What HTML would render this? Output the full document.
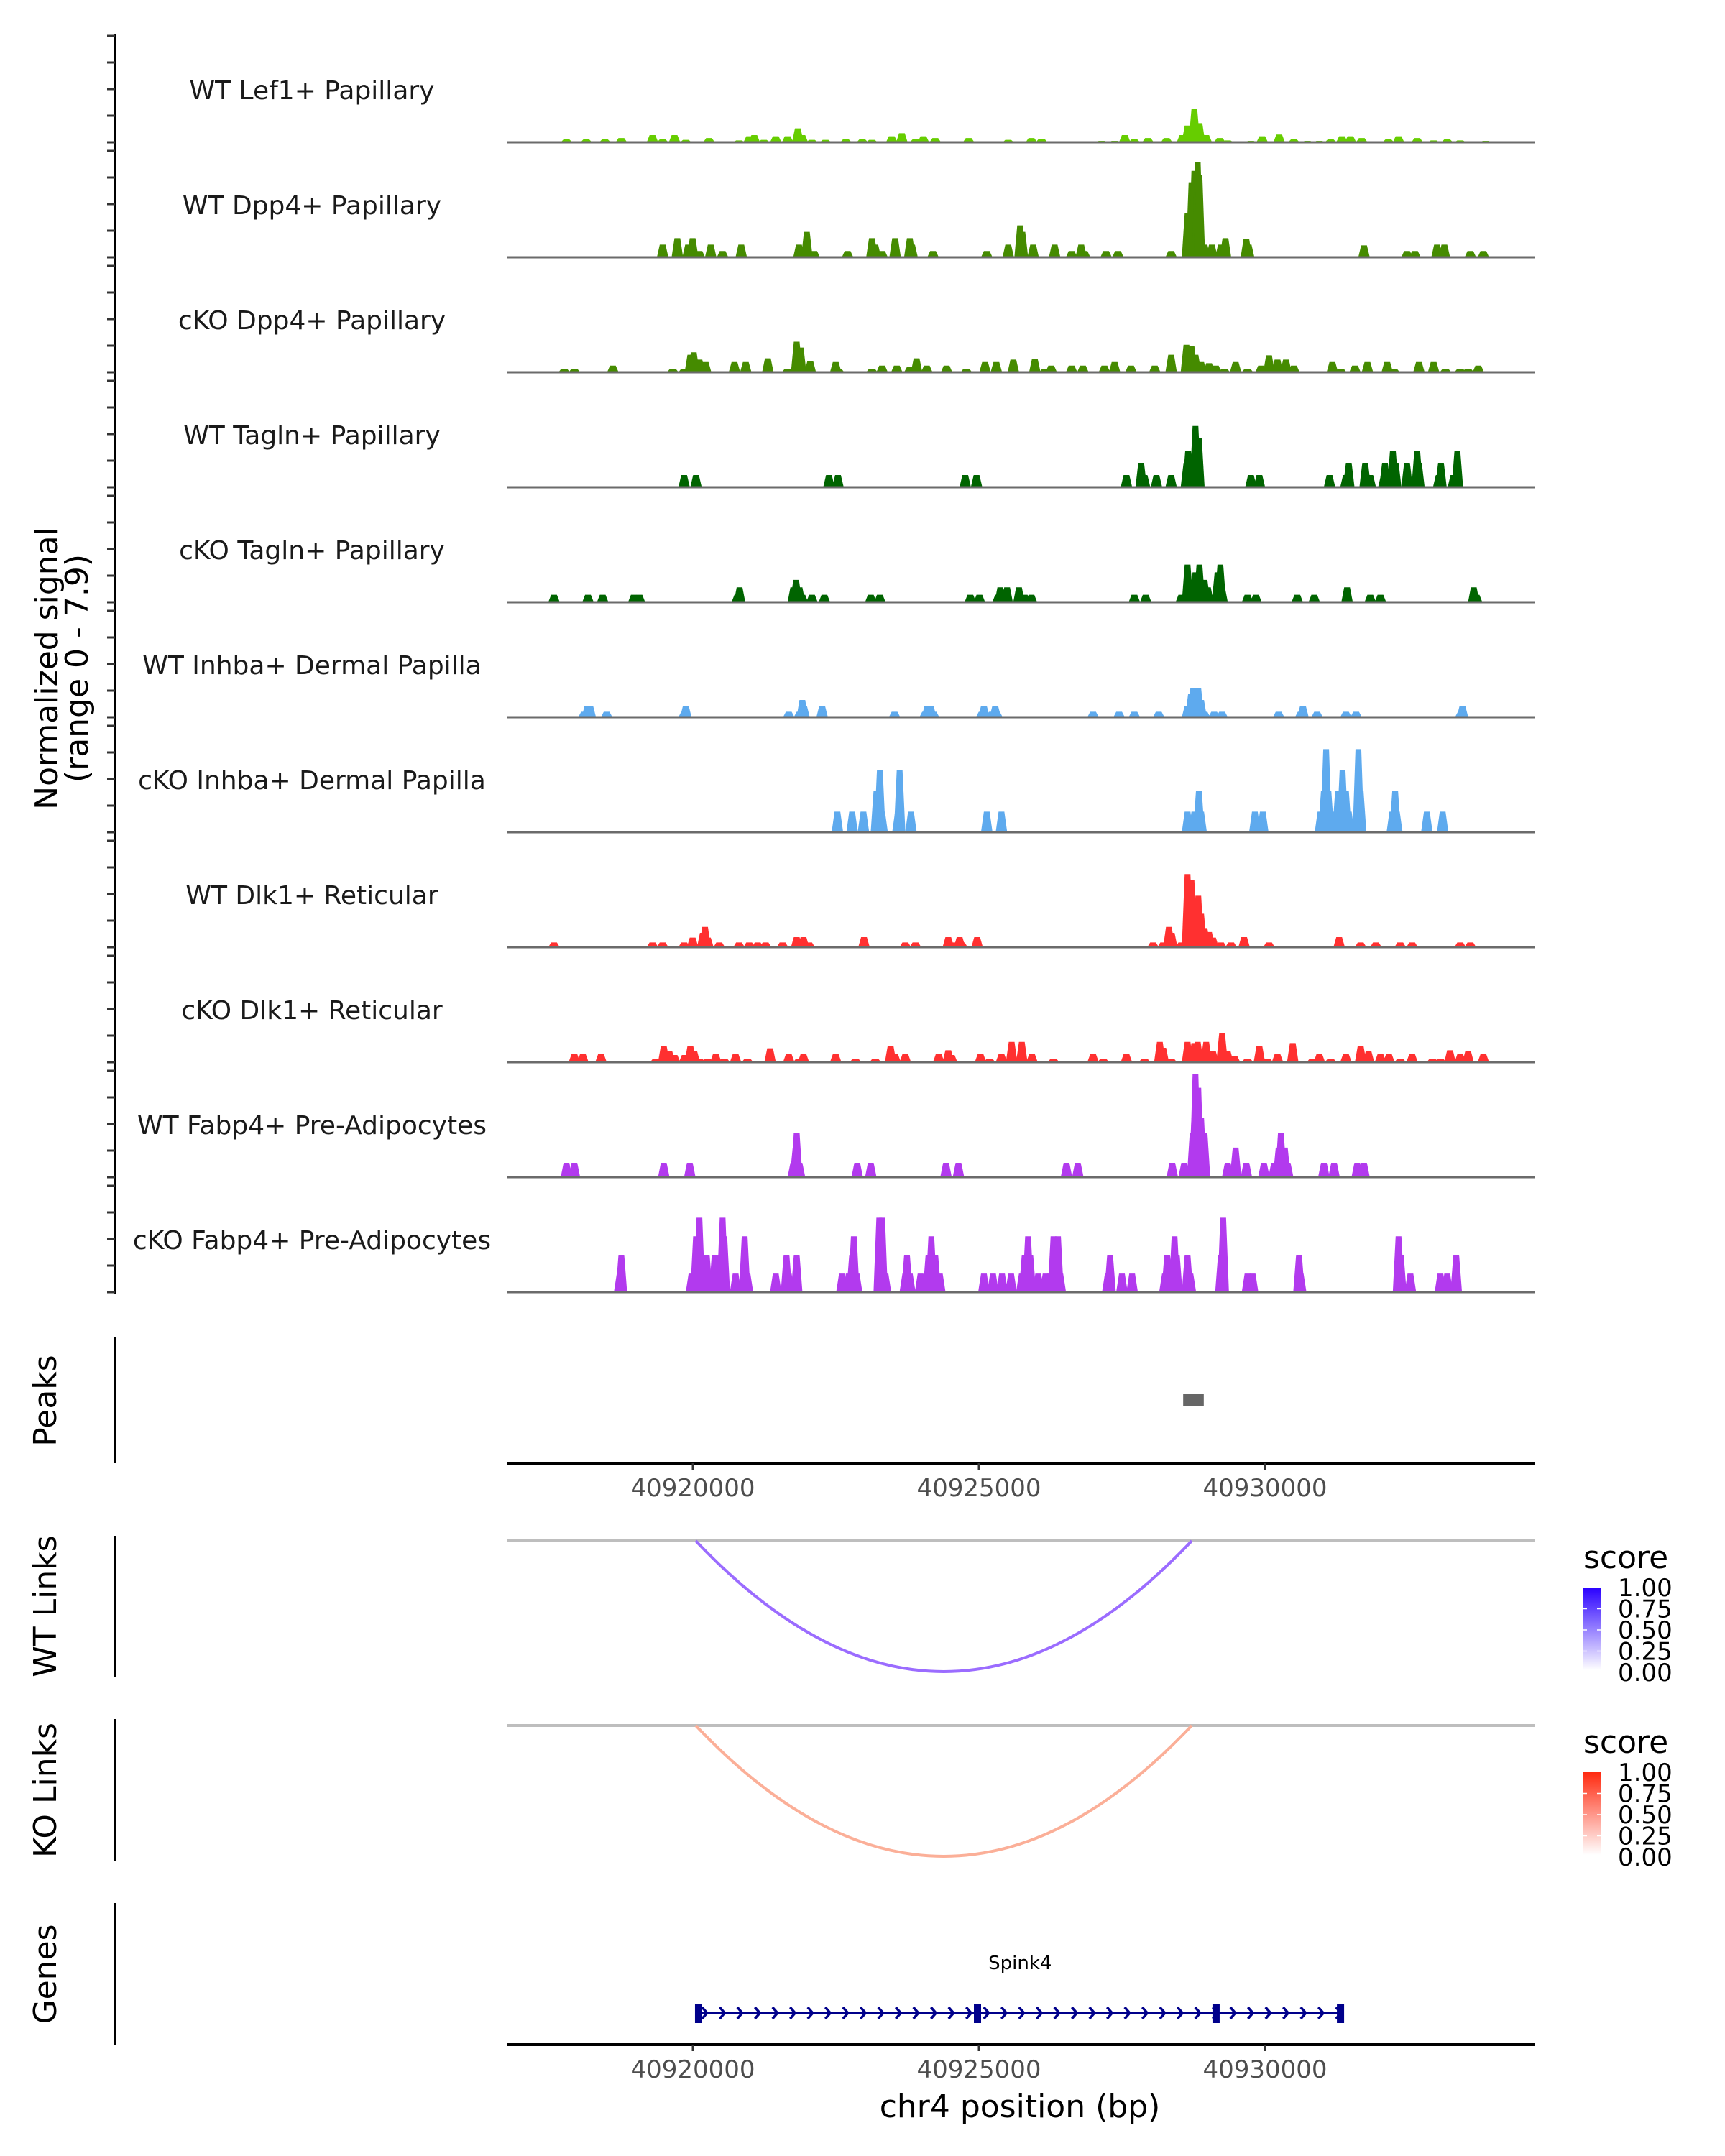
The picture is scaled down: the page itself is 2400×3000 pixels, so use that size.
<!DOCTYPE html>
<html><head><meta charset="utf-8"><style>
html,body{margin:0;padding:0;background:#fff;}
svg{display:block;font-family:"DejaVu Sans","Liberation Sans",sans-serif;}
</style></head><body>
<svg id="chart" width="2400" height="3000" viewBox="0 0 2400 3000" xmlns="http://www.w3.org/2000/svg">
<rect x="0" y="0" width="2400" height="3000" fill="#fff"/>
<g id="tracks"></g>
<g id="axes"></g>
<text transform="translate(80,930) rotate(-90)" text-anchor="middle" font-size="44" fill="#000">Normalized signal</text>
<text transform="translate(122,930) rotate(-90)" text-anchor="middle" font-size="44" fill="#000">(range 0 - 7.9)</text>
<text transform="translate(78,1949) rotate(-90)" text-anchor="middle" font-size="44" fill="#000">Peaks</text>
<text transform="translate(78,2235) rotate(-90)" text-anchor="middle" font-size="44" fill="#000">WT Links</text>
<text transform="translate(78,2491) rotate(-90)" text-anchor="middle" font-size="44" fill="#000">KO Links</text>
<text transform="translate(78,2747) rotate(-90)" text-anchor="middle" font-size="44" fill="#000">Genes</text>
<text x="1419" y="2946" text-anchor="middle" font-size="44" fill="#000">chr4 position (bp)</text>
<defs>
<linearGradient id="gradWT" x1="0" y1="1" x2="0" y2="0"><stop offset="0" stop-color="#ffffff"/><stop offset="1" stop-color="#2a00ff"/></linearGradient>
<linearGradient id="gradKO" x1="0" y1="1" x2="0" y2="0"><stop offset="0" stop-color="#ffffff"/><stop offset="1" stop-color="#ff2a10"/></linearGradient>
</defs>
</svg>
<script>
// ---------- DATA ----------
const trackNames = ["WT Lef1+ Papillary","WT Dpp4+ Papillary","cKO Dpp4+ Papillary","WT Tagln+ Papillary","cKO Tagln+ Papillary","WT Inhba+ Dermal Papilla","cKO Inhba+ Dermal Papilla","WT Dlk1+ Reticular","cKO Dlk1+ Reticular","WT Fabp4+ Pre-Adipocytes","cKO Fabp4+ Pre-Adipocytes"];
const regionStart = 40916680; // positions below are bp offsets from region start
const t1Pos = [1120,1470,1800,2090,2640,2820,3030,3230,3640,4170,4350,4440,4610,4820,5030,5210,5290,5460,5700,6060,6350,6520,6870,7050,7290,7430,7640,8230,8930,9340,9520,10580,10810,10990,11160,11400,11730,12010,12100,12220,12310,12430,12670,12810,13220,13420,13720,13980,14220,14430,14630,14830,14980,15180,15650,15830,16160,16450,16690,16920,17370];
const t1Val = [0.22,0.22,0.22,0.32,0.54,0.22,0.54,0.18,0.32,0.14,0.45,0.54,0.18,0.45,0.45,1.05,0.54,0.18,0.18,0.22,0.22,0.18,0.45,0.68,0.22,0.45,0.32,0.32,0.18,0.32,0.27,0.11,0.11,0.54,0.22,0.32,0.32,0.54,1.26,2.49,1.44,0.54,0.32,0.14,0.11,0.45,0.58,0.22,0.11,0.11,0.22,0.45,0.45,0.32,0.22,0.45,0.32,0.14,0.22,0.14,0.11];
const t2Pos = [2820,3080,3270,3350,3470,3670,3880,4210,5230,5370,5500,6090,6520,6580,6700,6930,7190,7230,7600,8550,8930,9140,9180,9370,9750,10050,10220,10280,10660,10870,11810,12100,12170,12220,12280,12310,12400,12530,12690,12770,13140,13180,15220,15980,16120,16510,16640,17100,17330];
const t2Val = [0.95,1.44,0.95,1.44,0.47,0.95,0.47,0.95,0.95,1.91,0.47,0.47,1.44,0.95,0.47,1.44,1.44,0.95,0.47,0.47,0.95,2.4,1.91,0.95,0.95,0.47,0.95,0.47,0.47,0.47,0.47,3.3,5.64,6.5,7.17,6.2,0.95,0.95,0.95,1.44,1.35,0.95,0.9,0.47,0.47,0.95,0.95,0.47,0.47];
const t3Pos = [1080,1260,1940,3000,3200,3310,3370,3470,3580,4090,4290,4680,5030,5190,5260,5430,5880,5930,6520,6700,6960,7190,7310,7490,7840,8190,8520,8720,9020,9400,9580,9690,10050,10250,10630,10810,11100,11520,11810,12080,12170,12240,12340,12480,12600,12750,12950,13160,13400,13540,13690,13840,13980,14660,14810,15060,15280,15630,15750,16190,16450,16660,16920,17060,17240];
const t3Val = [0.27,0.27,0.5,0.27,0.27,1.32,1.5,0.95,0.77,0.77,0.77,1.05,0.27,2.3,1.86,0.86,0.77,0.27,0.27,0.5,0.5,0.4,1.05,0.5,0.5,0.27,0.77,0.77,0.95,1.0,0.27,0.5,0.5,0.5,0.5,0.77,0.5,0.5,1.32,2.07,1.95,1.32,0.77,0.68,0.5,0.27,0.77,0.27,0.5,1.28,0.95,0.95,0.5,0.77,0.27,0.5,0.77,0.77,0.27,0.77,0.77,0.27,0.27,0.27,0.5];
const t4Pos = [3200,3410,5760,5920,8170,8370,11020,11280,11340,11550,11810,12080,12110,12190,12240,12300,13220,13370,14610,14900,14950,15240,15330,15570,15590,15730,15780,15980,16160,16190,16540,16580,16800,16870];
const t4Val = [0.92,0.92,0.92,0.92,0.92,0.92,0.92,1.84,0.92,0.92,0.92,1.84,2.76,1.84,4.61,3.68,0.92,0.92,0.92,0.92,1.84,1.84,0.92,0.92,1.84,2.76,1.84,1.84,2.76,1.84,0.92,1.84,0.92,2.76];
const t5Pos = [900,1500,1760,2310,2410,4140,4180,5130,5180,5240,5290,5460,5680,6500,6660,8260,8420,8750,8790,8910,9120,9220,9340,11160,11360,11990,12100,12160,12240,12310,12400,12460,12570,12630,12680,12710,13160,13310,14040,14340,14920,15330,15510,17160,17210];
const t5Val = [0.56,0.56,0.56,0.56,0.56,0.56,1.12,1.12,1.68,1.12,0.56,0.56,0.56,0.56,0.56,0.56,0.56,0.56,1.12,1.12,1.12,0.56,0.56,0.56,0.56,0.56,2.83,1.68,2.25,2.83,1.68,1.12,0.56,2.25,2.83,1.12,0.56,0.56,0.56,0.56,1.12,0.56,0.56,1.12,0.56];
const t6Pos = [1430,1490,1540,1830,3200,3230,5050,5240,5290,5320,5640,6920,7460,7500,7560,7610,8460,8500,8640,8700,8730,10430,10890,11160,11590,12100,12160,12200,12260,12290,12340,12400,12570,12710,13710,14100,14140,14390,14900,15080,16930,16960];
const t6Val = [0.41,0.86,0.86,0.41,0.41,0.86,0.41,0.41,1.3,0.86,0.86,0.41,0.41,0.86,0.86,0.41,0.41,0.86,0.41,0.86,0.41,0.41,0.41,0.41,0.41,0.86,1.73,2.16,1.73,2.16,1.3,0.41,0.41,0.41,0.41,0.41,0.86,0.41,0.41,0.41,0.41,0.86];
const t7Pos = [5910,6170,6370,6600,6660,6700,6980,7010,7210,8550,8810,12100,12220,12300,12340,13290,13430,14450,14510,14550,14590,14710,14760,14840,14900,14950,15090,15120,15160,15720,15770,15800,16330,16610];
const t7Val = [1.55,1.55,1.55,3.12,4.68,1.55,1.55,4.68,1.55,1.55,1.55,1.55,1.55,3.12,1.55,1.55,1.55,1.55,3.12,6.25,3.12,1.55,3.12,4.68,3.12,1.55,1.55,6.25,3.12,1.55,3.12,1.55,1.55,1.55];
const t8Pos = [900,2640,2820,3200,3350,3530,3570,3620,3820,4170,4350,4500,4640,4940,5190,5310,5410,6380,7110,7290,7870,7990,8070,8110,8380,11490,11670,11770,11820,11990,12100,12170,12220,12290,12340,12400,12480,12550,12690,12870,13100,13540,14780,15160,15430,15860,16070,16920,17100];
const t8Val = [0.36,0.36,0.36,0.36,0.72,1.08,1.53,0.72,0.36,0.36,0.36,0.36,0.36,0.36,0.76,0.76,0.36,0.76,0.36,0.36,0.76,0.36,0.76,0.36,0.76,0.36,0.36,1.53,1.08,0.36,5.5,5.05,3.24,3.87,2.52,1.44,1.14,0.72,0.36,0.36,0.76,0.36,0.76,0.36,0.36,0.36,0.36,0.36,0.36];
const t9Pos = [1260,1410,1730,2700,2840,2940,3030,3210,3310,3380,3470,3610,3760,3910,4110,4320,4720,5050,5230,5310,5880,6230,6580,6850,6930,7110,7700,7870,7930,8440,8600,8810,8990,9170,9350,9730,10430,10610,11020,11340,11610,11670,11810,12100,12220,12280,12430,12550,12710,12810,12930,13160,13370,13510,13690,13960,14310,14430,14630,14900,15160,15300,15510,15660,15860,16070,16430,16570,16740,16920,17060,17330];
const t9Val = [0.6,0.6,0.6,0.27,1.23,0.81,0.54,0.54,1.23,0.81,0.27,0.27,0.6,0.27,0.6,0.27,1.05,0.6,0.27,0.6,0.6,0.27,0.27,1.23,0.6,0.6,0.6,0.9,0.54,0.6,0.27,0.6,1.53,1.53,0.6,0.27,0.6,0.27,0.6,0.27,1.53,1.08,0.27,1.53,1.44,1.53,1.53,0.81,2.16,0.81,0.45,0.27,1.23,0.27,0.6,1.44,0.27,0.6,0.27,0.6,1.23,0.81,0.6,0.6,0.27,0.6,0.27,0.27,0.9,0.6,0.81,0.6];
const t10Pos = [1120,1260,2840,3300,5130,5170,5190,5240,6260,6500,7830,8050,9960,10160,11830,12040,12190,12220,12240,12290,12340,12400,12810,12950,13140,13450,13630,13710,13750,13820,13870,14510,14690,15100,15220];
const t10Val = [1.08,1.08,1.08,1.08,1.08,2.22,3.35,1.08,1.08,1.08,1.08,1.08,1.08,1.08,1.08,1.08,3.35,4.47,7.75,6.72,4.47,3.35,1.08,2.22,1.08,1.08,1.08,2.22,3.35,2.22,1.08,1.08,1.08,1.08,1.08];
const t11Pos = [2060,2090,3330,3410,3470,3530,3600,3670,3740,3800,3840,3880,3910,4110,4270,4320,4820,5010,5050,5190,5990,6110,6170,6200,6250,6650,6700,6760,7110,7140,7190,7380,7520,7570,7640,7720,8500,8660,8820,8980,9170,9220,9280,9320,9460,9590,9670,9730,9780,9810,9850,10690,10730,10940,11120,11700,11740,11830,11870,11910,12100,12150,12690,12730,13160,13250,14070,14100,15830,15870,16040,16570,16690,16850];
const t11Val = [1.4,2.81,1.4,4.2,5.6,2.81,2.81,1.4,2.81,1.4,2.81,5.6,4.2,1.4,4.2,1.4,1.4,2.81,1.4,2.81,1.4,1.4,2.81,4.2,1.4,5.6,5.6,1.4,1.4,2.81,1.4,1.4,2.81,4.2,2.81,1.4,1.4,1.4,1.4,1.4,1.4,2.81,4.2,2.81,1.4,1.4,1.4,4.2,2.81,4.2,1.4,1.4,2.81,1.4,1.4,1.4,2.81,1.4,4.2,2.81,2.81,1.4,2.81,5.6,1.4,1.4,2.81,1.4,4.2,2.81,1.4,1.4,1.4,2.81];
const trackPos = [t1Pos,t2Pos,t3Pos,t4Pos,t5Pos,t6Pos,t7Pos,t8Pos,t9Pos,t10Pos,t11Pos];
const trackVal = [t1Val,t2Val,t3Val,t4Val,t5Val,t6Val,t7Val,t8Val,t9Val,t10Val,t11Val];
const xTicks = [40920000,40925000,40930000];
const peakStarts = [40928570];
const peakEnds = [40928930];
const wtLinkStart = [40920050]; const wtLinkEnd = [40928720]; const wtLinkScore = [0.55];
const koLinkStart = [40920050]; const koLinkEnd = [40928720]; const koLinkScore = [0.35];
const geneName = "Spink4";
const geneStart = 40920060, geneEnd = 40931380;
const exonPos = [40920100,40924975,40929145,40931320];
const legendTicks = ["1.00","0.75","0.50","0.25","0.00"];
const yRangeMax = 7.9;

// ---------- STYLE / SCALES ----------
const colors = ["#66cd00","#458b00","#458b00","#006400","#006400","#5eaaee","#5eaaee","#ff3030","#ff3030","#b23aee","#b23aee"];
const NS = "http://www.w3.org/2000/svg";
const svg = document.getElementById('chart');
const tracksG = document.getElementById('tracks');
const axesG = document.getElementById('axes');
const X0 = 705, X1 = 2135;
function xAxis(bp){ return 964 + (bp - 40920000) * 0.0796; }
function xCov(off){ return 700 + off * 0.0787; }
const pxPerUnit = 18.5;
function base(i){ return 198 + 160*i; }
function yCov(i,v){ return base(i) - v*pxPerUnit; }
function el(tag, attrs, parent){ const e=document.createElementNS(NS,tag); for(const k in attrs) e.setAttribute(k,attrs[k]); (parent||svg).appendChild(e); return e; }

// ---------- COVERAGE TRACKS ----------
for(let i=0;i<trackNames.length;i++){
  const g = el('g',{},tracksG);
  
  
  const lab = el('text',{x:434,y:base(i)-60,'text-anchor':'middle','font-size':36,fill:'#1a1a1a'},g);
  lab.textContent = trackNames[i];
  
  
  const pos = trackPos[i], val = trackVal[i];
  for(let j=0;j<pos.length;j++){
    const cx = xCov(pos[j]); const b = base(i); const t = yCov(i,Math.min(val[j],yRangeMax));
    const p = el('polygon',{points:`${cx-8},${b} ${cx-4},${t} ${cx+4},${t} ${cx+8},${b}`,fill:colors[i]},g);
    
    
  }
  const bl = el('line',{x1:X0,x2:X1,y1:base(i),y2:base(i),stroke:'#6b6b6b','stroke-width':3},g);
  
  
}

// ---------- LEFT AXES ----------
const mainAxis = el('line',{x1:160,x2:160,y1:48,y2:1800,stroke:'#000','stroke-width':3},axesG);


for(let i=0;i<trackNames.length;i++){
  for(let k=0;k<=4;k++){
    const y = base(i) - k*2*pxPerUnit;
    const tk = el('line',{x1:149,x2:160,y1:y,y2:y,stroke:'#333','stroke-width':3},axesG);
    
    
  }
}
const panelAxes = [[1861,2036],[2137,2334],[2392,2590],[2648,2845]];
panelAxes.forEach(a=>{
  const l = el('line',{x1:160,x2:160,y1:a[0],y2:a[1],stroke:'#000','stroke-width':3},axesG);
  
  
});

// ---------- PEAKS ----------
for(let j=0;j<peakStarts.length;j++){
  const r = el('rect',{x:xAxis(peakStarts[j]),y:1940,width:xAxis(peakEnds[j])-xAxis(peakStarts[j]),height:17,fill:'#666'});
  
  
}
function xAxisAt(y, nameSuffix){
  const l = el('line',{x1:X0,x2:X1,y1:y,y2:y,stroke:'#000','stroke-width':4});
  
  
  xTicks.forEach(t=>{
    const tk = el('line',{x1:xAxis(t),x2:xAxis(t),y1:y,y2:y+9,stroke:'#333','stroke-width':3});
    
    
    const tl = el('text',{x:xAxis(t),y:y+46,'text-anchor':'middle','font-size':34,fill:'#4d4d4d'});
    tl.textContent = t;
    
    
  });
}
xAxisAt(2036,'peaks');

// ---------- LINKS ----------
function links(y0, starts, ends, scores, color, name){
  const gl = el('line',{x1:X0,x2:X1,y1:y0,y2:y0,stroke:'#bebebe','stroke-width':4});
  
  
  for(let j=0;j<starts.length;j++){
    const a = xAxis(starts[j]), b = xAxis(ends[j]);
    const depth = 182;
    const p = el('path',{d:`M${a},${y0} Q${(a+b)/2},${y0+depth*2} ${b},${y0}`,fill:'none',stroke:color,'stroke-width':4,'data-score':scores[j]});
    
    
  }
}
links(2144, wtLinkStart, wtLinkEnd, wtLinkScore, '#9b6cff', 'wt-link');
links(2401, koLinkStart, koLinkEnd, koLinkScore, '#fbaf98', 'ko-link');

// ---------- LEGENDS ----------
function legend(yTitle, yBar, grad, name){
  const t = el('text',{x:2203,y:yTitle+15,'font-size':44,fill:'#000'});
  t.textContent = 'score';
  
  
  const r = el('rect',{x:2203,y:yBar,width:24,height:115,fill:'url(#'+grad+')'});
  
  
  legendTicks.forEach((lab,k)=>{
    const y = yBar + k*29.5;
    if(k>0&&k<4){ el('line',{x1:2203,x2:2208,y1:y,y2:y,stroke:'#fff','stroke-width':1.5}); el('line',{x1:2222,x2:2227,y1:y,y2:y,stroke:'#fff','stroke-width':1.5}); }
    const tl = el('text',{x:2251,y:y+12,'font-size':34,fill:'#000'});
    tl.textContent = lab;
    
    
  });
}
legend(2167, 2209, 'gradWT', 'wt-legend');
legend(2424, 2466, 'gradKO', 'ko-legend');

// ---------- GENES ----------
const gx0 = xAxis(geneStart), gx1 = xAxis(geneEnd);
const gt = el('text',{x:(gx0+gx1)/2,y:2740,'text-anchor':'middle','font-size':26,fill:'#000'});
gt.textContent = geneName;


const gline = el('line',{x1:gx0,x2:gx1,y1:2801,y2:2801,stroke:'#00008b','stroke-width':4});


for(let x=gx0+8; x<gx1-6; x+=24.5){
  const c = el('path',{d:`M${x},2793 L${x+7},2801 L${x},2809`,fill:'none',stroke:'#00008b','stroke-width':3.5});
  
  
}
exonPos.forEach(p=>{
  const r = el('rect',{x:xAxis(p)-5,y:2788,width:10,height:27,fill:'#00008b'});
  
  
});
xAxisAt(2845,'genes');
</script>
</body></html>
